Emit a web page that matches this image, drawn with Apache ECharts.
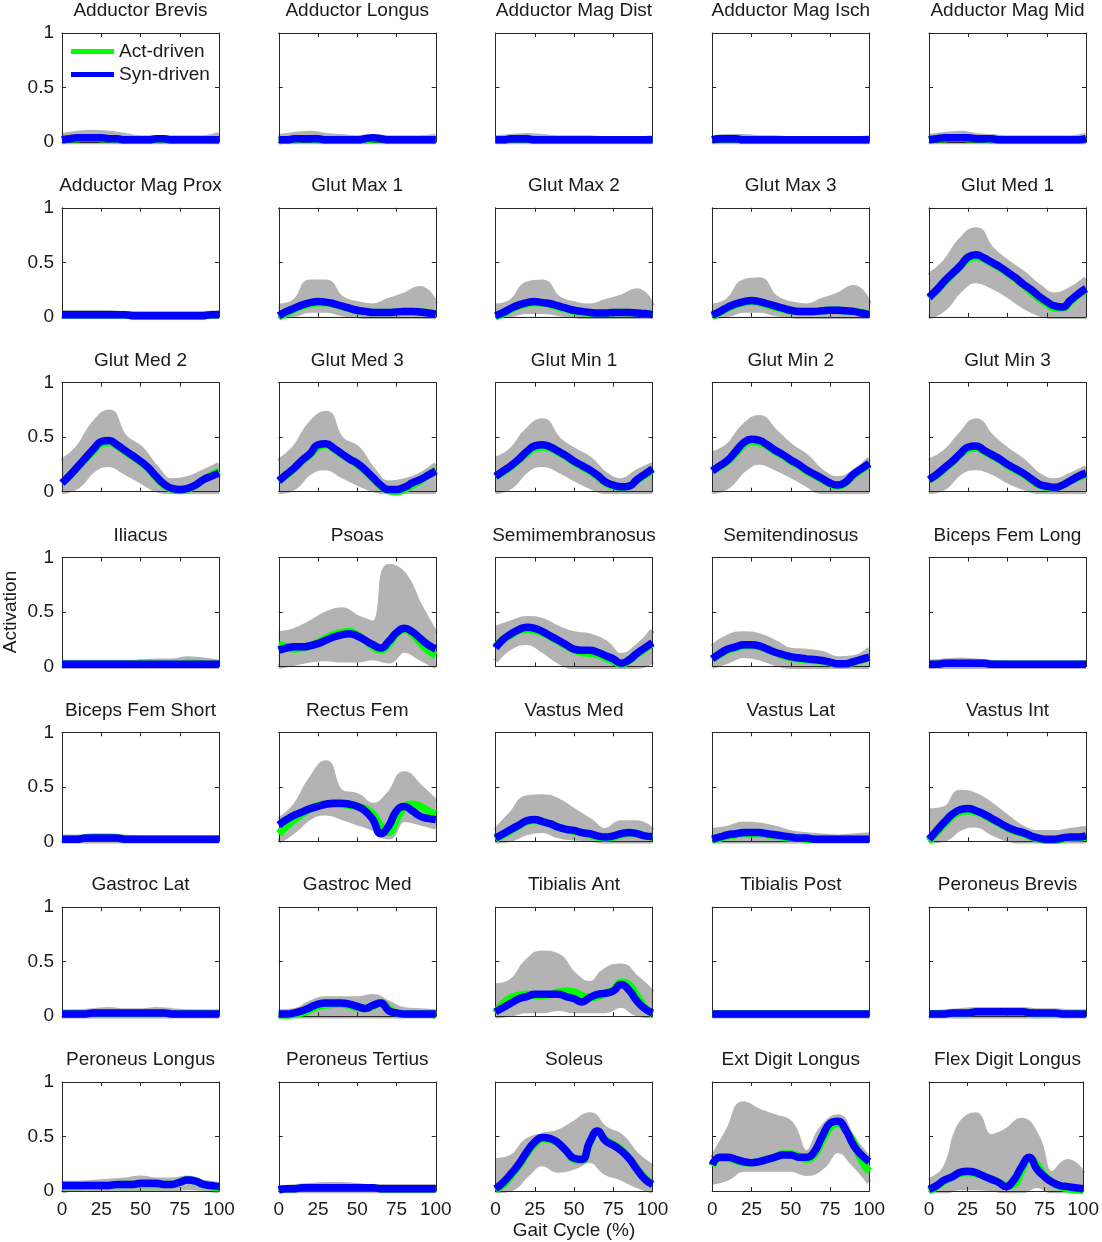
<!DOCTYPE html>
<html>
<head>
<meta charset="utf-8">
<script src="https://cdn.jsdelivr.net/npm/echarts@6/dist/echarts.min.js"></script>
<style>html,body{margin:0;padding:0;background:#fff}#c{width:1102px;height:1242px}</style>
</head>
<body>
<div id="c"></div>
<script>
// ---------------- data ----------------
const muscles = [
  'Adductor Brevis','Adductor Longus','Adductor Mag Dist','Adductor Mag Isch','Adductor Mag Mid',
  'Adductor Mag Prox','Glut Max 1','Glut Max 2','Glut Max 3','Glut Med 1',
  'Glut Med 2','Glut Med 3','Glut Min 1','Glut Min 2','Glut Min 3',
  'Iliacus','Psoas','Semimembranosus','Semitendinosus','Biceps Fem Long',
  'Biceps Fem Short','Rectus Fem','Vastus Med','Vastus Lat','Vastus Int',
  'Gastroc Lat','Gastroc Med','Tibialis Ant','Tibialis Post','Peroneus Brevis',
  'Peroneus Longus','Peroneus Tertius','Soleus','Ext Digit Longus','Flex Digit Longus'
];
const gaitX = [0,5,10,15,20,25,30,35,40,45,50,55,60,65,70,75,80,85,90,95,100];
const bandX = [0,10,20,30,40,50,60,70,80,90,100];
const xTickLabels = [0,25,50,75,100];
const yTickLabels = [0,0.5,1];
const legendNames = ['Act-driven','Syn-driven'];

// Syn-driven (blue), sampled at gaitX
const synDriven = [
  [0.02,0.03,0.04,0.04,0.04,0.04,0.03,0.03,0.02,0.02,0.02,0.02,0.03,0.03,0.02,0.02,0.02,0.02,0.02,0.02,0.02],
  [0.02,0.02,0.03,0.03,0.03,0.03,0.02,0.02,0.02,0.02,0.02,0.03,0.04,0.03,0.02,0.02,0.02,0.02,0.02,0.02,0.02],
  [0.02,0.02,0.03,0.03,0.03,0.02,0.02,0.02,0.02,0.02,0.02,0.02,0.02,0.02,0.02,0.02,0.02,0.02,0.02,0.02,0.02],
  [0.02,0.03,0.03,0.03,0.02,0.02,0.02,0.02,0.02,0.02,0.02,0.02,0.02,0.02,0.02,0.02,0.02,0.02,0.02,0.02,0.02],
  [0.02,0.03,0.04,0.04,0.04,0.04,0.03,0.03,0.03,0.02,0.02,0.02,0.02,0.02,0.02,0.02,0.02,0.02,0.02,0.02,0.03],
  [0.02,0.02,0.02,0.02,0.02,0.02,0.02,0.02,0.02,0.01,0.01,0.01,0.01,0.01,0.01,0.01,0.01,0.01,0.01,0.02,0.02],
  [0.01,0.05,0.08,0.11,0.13,0.14,0.135,0.12,0.1,0.08,0.06,0.05,0.04,0.04,0.04,0.045,0.05,0.05,0.045,0.035,0.025],
  [0.01,0.04,0.08,0.11,0.13,0.14,0.13,0.12,0.1,0.08,0.06,0.05,0.04,0.035,0.035,0.04,0.04,0.04,0.035,0.03,0.02],
  [0.015,0.05,0.09,0.12,0.14,0.15,0.14,0.12,0.1,0.08,0.06,0.05,0.05,0.05,0.055,0.06,0.06,0.055,0.05,0.035,0.02],
  [0.18,0.25,0.33,0.4,0.47,0.55,0.57,0.54,0.5,0.46,0.41,0.36,0.3,0.25,0.19,0.14,0.1,0.09,0.15,0.21,0.26],
  [0.08,0.15,0.23,0.31,0.39,0.46,0.47,0.43,0.38,0.33,0.28,0.22,0.14,0.07,0.03,0.02,0.03,0.06,0.11,0.14,0.17],
  [0.1,0.16,0.22,0.29,0.35,0.43,0.44,0.4,0.35,0.3,0.26,0.2,0.13,0.06,0.02,0.02,0.04,0.08,0.11,0.15,0.19],
  [0.14,0.19,0.24,0.3,0.37,0.42,0.43,0.41,0.37,0.33,0.28,0.24,0.2,0.15,0.09,0.06,0.045,0.05,0.11,0.16,0.21],
  [0.19,0.24,0.29,0.37,0.45,0.48,0.47,0.43,0.38,0.34,0.29,0.25,0.2,0.16,0.12,0.08,0.06,0.09,0.16,0.21,0.26],
  [0.11,0.16,0.22,0.28,0.35,0.41,0.42,0.38,0.34,0.3,0.25,0.21,0.17,0.12,0.07,0.05,0.04,0.06,0.1,0.14,0.17],
  [0.02,0.02,0.02,0.02,0.02,0.02,0.02,0.02,0.02,0.02,0.02,0.02,0.02,0.02,0.02,0.02,0.02,0.02,0.02,0.02,0.02],
  [0.15,0.17,0.18,0.18,0.19,0.21,0.24,0.27,0.29,0.3,0.28,0.24,0.2,0.17,0.23,0.31,0.35,0.32,0.26,0.2,0.16],
  [0.17,0.25,0.3,0.34,0.36,0.35,0.32,0.28,0.24,0.2,0.16,0.15,0.15,0.13,0.1,0.07,0.03,0.06,0.12,0.17,0.22],
  [0.07,0.12,0.16,0.18,0.2,0.2,0.19,0.16,0.13,0.11,0.09,0.08,0.07,0.065,0.055,0.04,0.025,0.025,0.045,0.065,0.085],
  [0.02,0.02,0.03,0.03,0.03,0.03,0.03,0.03,0.02,0.02,0.02,0.02,0.02,0.02,0.02,0.02,0.02,0.02,0.02,0.02,0.02],
  [0.02,0.02,0.02,0.03,0.03,0.03,0.03,0.03,0.02,0.02,0.02,0.02,0.02,0.02,0.02,0.02,0.02,0.02,0.02,0.02,0.02],
  [0.15,0.2,0.24,0.27,0.3,0.32,0.34,0.35,0.35,0.34,0.32,0.28,0.2,0.07,0.14,0.28,0.32,0.28,0.23,0.21,0.2],
  [0.03,0.07,0.11,0.15,0.19,0.2,0.18,0.16,0.13,0.11,0.1,0.08,0.07,0.05,0.04,0.05,0.07,0.08,0.07,0.05,0.045],
  [0.02,0.04,0.06,0.07,0.08,0.08,0.08,0.07,0.06,0.05,0.04,0.03,0.03,0.02,0.02,0.02,0.02,0.02,0.02,0.02,0.02],
  [0.02,0.1,0.18,0.25,0.29,0.3,0.28,0.25,0.21,0.17,0.13,0.1,0.08,0.05,0.03,0.02,0.02,0.03,0.04,0.04,0.05],
  [0.02,0.02,0.02,0.02,0.03,0.03,0.03,0.03,0.03,0.03,0.03,0.03,0.03,0.03,0.02,0.02,0.02,0.02,0.02,0.02,0.02],
  [0.02,0.02,0.03,0.05,0.08,0.11,0.12,0.12,0.12,0.11,0.09,0.07,0.1,0.12,0.05,0.03,0.02,0.02,0.02,0.02,0.02],
  [0.04,0.08,0.12,0.16,0.18,0.2,0.2,0.2,0.2,0.18,0.16,0.13,0.17,0.2,0.21,0.23,0.29,0.24,0.14,0.07,0.03],
  [0.02,0.02,0.02,0.02,0.02,0.02,0.02,0.02,0.02,0.02,0.02,0.02,0.02,0.02,0.02,0.02,0.02,0.02,0.02,0.02,0.02],
  [0.02,0.02,0.02,0.03,0.03,0.03,0.04,0.04,0.04,0.04,0.04,0.04,0.04,0.03,0.03,0.03,0.03,0.02,0.02,0.02,0.02],
  [0.05,0.05,0.05,0.05,0.05,0.05,0.05,0.06,0.06,0.06,0.07,0.07,0.07,0.06,0.06,0.08,0.1,0.09,0.06,0.05,0.04],
  [0.01,0.02,0.02,0.03,0.03,0.03,0.03,0.03,0.03,0.03,0.03,0.03,0.03,0.02,0.02,0.02,0.02,0.02,0.02,0.02,0.02],
  [0.02,0.08,0.16,0.25,0.36,0.45,0.49,0.48,0.44,0.37,0.3,0.29,0.45,0.55,0.46,0.42,0.37,0.3,0.2,0.11,0.06],
  [0.24,0.31,0.31,0.29,0.27,0.26,0.27,0.29,0.31,0.33,0.33,0.31,0.31,0.36,0.5,0.62,0.64,0.56,0.42,0.33,0.27],
  [0.015,0.05,0.1,0.13,0.17,0.18,0.17,0.14,0.11,0.08,0.04,0.1,0.22,0.31,0.2,0.13,0.08,0.05,0.04,0.03,0.02]
];

// Act-driven (green), sampled at gaitX
const actDriven = [
  [0.02,0.03,0.03,0.04,0.04,0.03,0.03,0.02,0.02,0.02,0.02,0.02,0.02,0.02,0.02,0.02,0.02,0.02,0.02,0.02,0.02],
  [0.01,0.02,0.02,0.03,0.03,0.02,0.02,0.02,0.02,0.02,0.02,0.02,0.03,0.03,0.02,0.02,0.02,0.02,0.02,0.02,0.02],
  [0.02,0.02,0.03,0.03,0.03,0.02,0.02,0.02,0.02,0.02,0.02,0.02,0.02,0.02,0.02,0.02,0.02,0.02,0.02,0.02,0.02],
  [0.02,0.03,0.03,0.03,0.02,0.02,0.02,0.02,0.02,0.02,0.02,0.02,0.02,0.02,0.02,0.02,0.02,0.02,0.02,0.02,0.02],
  [0.02,0.03,0.03,0.04,0.04,0.03,0.03,0.03,0.02,0.02,0.02,0.02,0.02,0.02,0.02,0.02,0.02,0.02,0.02,0.02,0.02],
  [0.02,0.02,0.02,0.02,0.02,0.02,0.02,0.02,0.02,0.01,0.01,0.01,0.01,0.01,0.01,0.01,0.01,0.01,0.01,0.02,0.02],
  [0.0,0.03,0.07,0.1,0.12,0.13,0.13,0.115,0.095,0.075,0.055,0.045,0.04,0.04,0.04,0.045,0.05,0.05,0.045,0.04,0.03],
  [0.0,0.03,0.07,0.1,0.12,0.13,0.13,0.11,0.09,0.07,0.05,0.04,0.035,0.035,0.035,0.04,0.04,0.04,0.035,0.03,0.02],
  [0.0,0.04,0.08,0.11,0.13,0.14,0.13,0.11,0.09,0.07,0.055,0.05,0.05,0.05,0.055,0.06,0.06,0.055,0.05,0.04,0.025],
  [0.17,0.24,0.32,0.39,0.46,0.53,0.55,0.53,0.49,0.45,0.4,0.35,0.29,0.23,0.17,0.12,0.08,0.08,0.14,0.2,0.25],
  [0.08,0.15,0.22,0.3,0.37,0.44,0.45,0.42,0.37,0.32,0.27,0.21,0.13,0.06,0.02,0.01,0.02,0.06,0.11,0.15,0.19],
  [0.1,0.15,0.21,0.28,0.34,0.41,0.43,0.39,0.34,0.3,0.25,0.19,0.12,0.05,0.01,0.0,0.02,0.06,0.1,0.15,0.2],
  [0.14,0.18,0.23,0.29,0.35,0.4,0.41,0.4,0.36,0.32,0.27,0.23,0.19,0.14,0.08,0.05,0.04,0.05,0.1,0.15,0.2],
  [0.19,0.23,0.28,0.35,0.43,0.46,0.45,0.42,0.37,0.33,0.28,0.24,0.19,0.15,0.11,0.07,0.05,0.08,0.15,0.2,0.25],
  [0.11,0.15,0.21,0.27,0.34,0.39,0.4,0.37,0.33,0.29,0.24,0.2,0.16,0.11,0.06,0.04,0.035,0.06,0.1,0.13,0.16],
  [0.02,0.02,0.02,0.02,0.02,0.02,0.02,0.02,0.02,0.02,0.03,0.03,0.02,0.02,0.02,0.02,0.03,0.03,0.02,0.02,0.02],
  [0.2,0.18,0.16,0.17,0.19,0.22,0.26,0.29,0.31,0.32,0.29,0.24,0.18,0.15,0.2,0.3,0.34,0.3,0.22,0.15,0.1],
  [0.18,0.25,0.29,0.33,0.34,0.33,0.31,0.27,0.23,0.19,0.15,0.13,0.12,0.11,0.08,0.05,0.02,0.05,0.11,0.16,0.21],
  [0.07,0.11,0.15,0.17,0.19,0.19,0.18,0.16,0.13,0.1,0.08,0.07,0.06,0.055,0.05,0.035,0.02,0.02,0.04,0.06,0.08],
  [0.02,0.02,0.03,0.03,0.03,0.03,0.03,0.03,0.02,0.02,0.02,0.02,0.02,0.02,0.02,0.02,0.02,0.02,0.02,0.02,0.02],
  [0.02,0.02,0.02,0.03,0.03,0.03,0.03,0.03,0.02,0.02,0.02,0.02,0.02,0.02,0.02,0.02,0.02,0.02,0.02,0.02,0.02],
  [0.07,0.14,0.2,0.25,0.3,0.33,0.34,0.34,0.34,0.33,0.32,0.3,0.25,0.14,0.08,0.2,0.31,0.34,0.32,0.28,0.25],
  [0.02,0.06,0.1,0.14,0.18,0.19,0.18,0.16,0.13,0.11,0.09,0.08,0.06,0.04,0.03,0.04,0.06,0.07,0.07,0.05,0.04],
  [0.01,0.03,0.05,0.06,0.07,0.07,0.07,0.06,0.05,0.04,0.03,0.03,0.02,0.02,0.02,0.02,0.02,0.02,0.02,0.02,0.02],
  [0.0,0.08,0.16,0.23,0.27,0.28,0.27,0.24,0.2,0.16,0.12,0.09,0.07,0.04,0.02,0.01,0.01,0.02,0.03,0.03,0.04],
  [0.02,0.02,0.02,0.02,0.03,0.03,0.03,0.03,0.03,0.03,0.03,0.03,0.03,0.03,0.02,0.02,0.02,0.02,0.02,0.02,0.02],
  [0.01,0.01,0.02,0.03,0.06,0.09,0.1,0.11,0.11,0.1,0.08,0.07,0.09,0.12,0.07,0.03,0.02,0.02,0.02,0.02,0.01],
  [0.03,0.12,0.17,0.19,0.2,0.19,0.19,0.2,0.22,0.23,0.22,0.19,0.17,0.18,0.21,0.24,0.31,0.29,0.19,0.08,0.02],
  [0.02,0.02,0.02,0.02,0.02,0.02,0.02,0.02,0.02,0.02,0.02,0.02,0.02,0.02,0.02,0.02,0.02,0.02,0.02,0.02,0.02],
  [0.02,0.02,0.02,0.03,0.03,0.03,0.04,0.04,0.04,0.04,0.04,0.04,0.04,0.03,0.03,0.03,0.03,0.02,0.02,0.02,0.02],
  [0.04,0.04,0.04,0.05,0.05,0.05,0.05,0.06,0.06,0.06,0.06,0.06,0.06,0.06,0.06,0.08,0.1,0.09,0.06,0.04,0.03],
  [0.01,0.02,0.02,0.03,0.03,0.03,0.03,0.03,0.03,0.03,0.03,0.03,0.03,0.02,0.02,0.02,0.02,0.02,0.02,0.02,0.02],
  [0.01,0.06,0.14,0.23,0.34,0.43,0.48,0.47,0.44,0.37,0.29,0.28,0.44,0.55,0.47,0.43,0.38,0.3,0.21,0.12,0.06],
  [0.23,0.3,0.3,0.28,0.26,0.26,0.27,0.29,0.31,0.34,0.34,0.32,0.29,0.33,0.46,0.58,0.62,0.56,0.45,0.28,0.18],
  [0.0,0.04,0.09,0.13,0.16,0.17,0.16,0.14,0.11,0.08,0.05,0.06,0.18,0.3,0.24,0.14,0.08,0.04,0.02,0.01,0.005]
];

// Upper edge of the grey spread of individual trials, sampled at bandX
const grayUpper = [
  [0.06,0.08,0.09,0.08,0.06,0.04,0.04,0.04,0.04,0.04,0.07],
  [0.05,0.07,0.08,0.06,0.05,0.04,0.05,0.04,0.04,0.04,0.05],
  [0.04,0.05,0.06,0.05,0.04,0.04,0.04,0.03,0.03,0.03,0.04],
  [0.04,0.05,0.05,0.04,0.04,0.03,0.03,0.03,0.03,0.03,0.04],
  [0.05,0.07,0.08,0.06,0.05,0.04,0.04,0.04,0.04,0.04,0.06],
  [0.04,0.04,0.04,0.04,0.03,0.03,0.03,0.03,0.03,0.03,0.04],
  [0.1,0.14,0.32,0.32,0.17,0.12,0.1,0.15,0.2,0.26,0.12],
  [0.1,0.14,0.3,0.32,0.17,0.12,0.1,0.14,0.18,0.24,0.1],
  [0.1,0.15,0.32,0.34,0.18,0.12,0.1,0.15,0.2,0.27,0.12],
  [0.38,0.5,0.7,0.8,0.62,0.5,0.4,0.28,0.2,0.25,0.35],
  [0.28,0.4,0.62,0.73,0.5,0.4,0.22,0.1,0.12,0.18,0.25],
  [0.28,0.4,0.62,0.72,0.48,0.4,0.2,0.08,0.1,0.15,0.25],
  [0.3,0.38,0.56,0.65,0.48,0.38,0.3,0.16,0.1,0.18,0.25],
  [0.35,0.42,0.6,0.68,0.55,0.42,0.32,0.18,0.12,0.18,0.3],
  [0.28,0.36,0.52,0.65,0.5,0.38,0.28,0.15,0.1,0.15,0.22],
  [0.04,0.04,0.04,0.04,0.04,0.04,0.05,0.05,0.07,0.06,0.04],
  [0.3,0.33,0.4,0.48,0.52,0.45,0.4,0.92,0.84,0.55,0.3],
  [0.35,0.4,0.44,0.42,0.35,0.3,0.28,0.22,0.1,0.18,0.33],
  [0.18,0.27,0.3,0.28,0.22,0.15,0.14,0.12,0.07,0.08,0.16],
  [0.04,0.05,0.06,0.05,0.04,0.03,0.03,0.03,0.03,0.03,0.03],
  [0.04,0.04,0.05,0.05,0.04,0.03,0.03,0.03,0.03,0.03,0.03],
  [0.2,0.32,0.56,0.72,0.45,0.42,0.33,0.43,0.62,0.5,0.36],
  [0.1,0.25,0.4,0.41,0.37,0.28,0.19,0.1,0.17,0.17,0.1],
  [0.1,0.12,0.16,0.15,0.12,0.08,0.06,0.05,0.04,0.05,0.06],
  [0.28,0.3,0.45,0.42,0.33,0.22,0.12,0.08,0.08,0.1,0.12],
  [0.04,0.04,0.05,0.06,0.05,0.05,0.06,0.05,0.04,0.04,0.04],
  [0.04,0.05,0.12,0.16,0.16,0.16,0.18,0.12,0.06,0.05,0.04],
  [0.28,0.32,0.5,0.58,0.55,0.38,0.3,0.42,0.46,0.35,0.22],
  [0.03,0.03,0.03,0.03,0.03,0.03,0.03,0.03,0.03,0.03,0.03],
  [0.03,0.04,0.05,0.06,0.06,0.06,0.06,0.05,0.05,0.04,0.04],
  [0.07,0.07,0.08,0.09,0.1,0.12,0.1,0.1,0.12,0.08,0.06],
  [0.03,0.04,0.05,0.06,0.06,0.05,0.04,0.04,0.04,0.04,0.04],
  [0.28,0.31,0.46,0.51,0.54,0.62,0.7,0.57,0.5,0.33,0.22],
  [0.3,0.55,0.8,0.73,0.68,0.62,0.35,0.58,0.68,0.47,0.3],
  [0.1,0.2,0.6,0.7,0.5,0.55,0.65,0.5,0.16,0.27,0.16]
];

// Lower edge of the grey spread, sampled at bandX
const grayLower = [
  [0,0,0,0,0,0,0,0,0,0,0],
  [0,0,0,0,0,0,0,0,0,0,0],
  [0,0,0,0,0,0,0,0,0,0,0],
  [0,0,0,0,0,0,0,0,0,0,0],
  [0,0,0,0,0,0,0,0,0,0,0],
  [0,0,0,0,0,0,0,0,0,0,0],
  [0,0.02,0.06,0.06,0.03,0.01,0,0,0,0,0],
  [0,0.02,0.05,0.05,0.03,0.01,0,0,0,0,0],
  [0,0.02,0.06,0.06,0.03,0.01,0,0,0,0,0],
  [0,0.08,0.25,0.33,0.28,0.2,0.1,0.03,0,0,0],
  [0,0.05,0.2,0.25,0.18,0.1,0.02,0,0,0,0],
  [0,0.04,0.18,0.22,0.15,0.08,0.02,0,0,0,0],
  [0,0.05,0.2,0.25,0.2,0.12,0.05,0,0,0,0],
  [0,0.05,0.2,0.27,0.22,0.15,0.07,0,0,0,0],
  [0,0.04,0.18,0.22,0.18,0.1,0.04,0,0,0,0],
  [0,0,0,0,0,0,0,0,0,0,0],
  [0,0.03,0.06,0.07,0.06,0.06,0.08,0.05,0.15,0.08,0],
  [0.05,0.18,0.22,0.15,0.05,0,0,0,0,0,0.05],
  [0,0.05,0.1,0.08,0.03,0,0,0,0,0,0],
  [0,0,0,0,0,0,0,0,0,0,0],
  [0,0,0,0,0,0,0,0,0,0,0],
  [0,0.1,0.22,0.26,0.22,0.17,0.12,0.04,0.2,0.17,0.13],
  [0,0.02,0.08,0.1,0.05,0.03,0.02,0,0,0,0],
  [0,0,0,0,0,0,0,0,0,0,0],
  [0,0.02,0.12,0.15,0.08,0.02,0,0,0,0,0],
  [0,0,0,0,0,0,0,0,0,0,0],
  [0,0,0,0,0,0,0,0,0,0,0],
  [0,0.02,0.05,0.05,0.07,0.05,0.05,0.05,0.1,0.02,0],
  [0,0,0,0,0,0,0,0,0,0,0],
  [0,0,0,0,0,0,0,0,0,0,0],
  [0,0.02,0.02,0.02,0.02,0.02,0.02,0.02,0.03,0.02,0],
  [0,0,0,0,0,0,0,0,0,0,0],
  [0,0.02,0.15,0.25,0.19,0.22,0.28,0.17,0.12,0.05,0],
  [0.08,0.12,0.2,0.2,0.2,0.2,0.16,0.22,0.37,0.25,0.08],
  [0,0,0.03,0.03,0.02,0,0,0.05,0,0,0]
];

// ---------------- layout & style ----------------
const FONT = '"Liberation Sans", Arial, Helvetica, sans-serif';
const TXT = '#1a1a1a';
const AX = '#262626';
const GRAY = '#b3b3b3';
const GREEN = '#00ff00';
const BLUE = '#0000ff';
const COLS = 5, ROWS = 7;
const X0 = 62, DX = 216.75, PW = 157;
const Y0 = 33, DY = 174.83, PH = 109;

const grids = [], xAxes = [], yAxes = [], series = [], titles = [];
const xStep = xTickLabels[1] - xTickLabels[0];
const yStep = yTickLabels[1] - yTickLabels[0];

muscles.forEach((name, k) => {
  const col = k % COLS, row = Math.floor(k / COLS);
  const left = X0 + col * DX, top = Y0 + row * DY;
  grids.push({ left: left, top: top, width: PW, height: PH, containLabel: false });

  const axLine = { show: true, onZero: false, lineStyle: { color: AX, width: 1 } };
  const axTick = { show: true, inside: true, length: 4, lineStyle: { color: AX, width: 1 } };
  const labStyle = { fontSize: 19, color: TXT, fontFamily: FONT };

  const xBase = { type: 'value', gridIndex: k, z: 3, min: xTickLabels[0], max: xTickLabels[xTickLabels.length - 1],
    interval: xStep, axisLine: axLine, axisTick: axTick, splitLine: { show: false } };
  xAxes.push(Object.assign({}, xBase, { position: 'bottom',
    axisLabel: Object.assign({ show: row === ROWS - 1, margin: 9 }, labStyle) }));
  xAxes.push(Object.assign({}, xBase, { position: 'top', axisLabel: { show: false } }));

  const yBase = { type: 'value', gridIndex: k, z: 3, min: yTickLabels[0], max: yTickLabels[yTickLabels.length - 1],
    interval: yStep, axisLine: axLine, axisTick: axTick, splitLine: { show: false } };
  yAxes.push(Object.assign({}, yBase, { position: 'left',
    axisLabel: Object.assign({ show: col === 0, margin: 8 }, labStyle) }));
  yAxes.push(Object.assign({}, yBase, { position: 'right', axisLabel: { show: false } }));

  titles.push({ text: name, left: left + PW / 2, top: top - 31.5, textAlign: 'center', padding: 0,
    textStyle: { fontSize: 19, fontWeight: 'normal', color: TXT, fontFamily: FONT, lineHeight: 19 } });

  const xi = 2 * k, yi = 2 * k;
  const common = { type: 'line', xAxisIndex: xi, yAxisIndex: yi, symbol: 'none', silent: true, smooth: 0.5 };
  // grey spread of individual trials: upper edge filled grey down to 0,
  // then lower edge filled white down to 0, leaving the grey band in between
  series.push(Object.assign({}, common, { name: 'trials upper',
    data: bandX.map((x, i) => [x, grayUpper[k][i]]),
    lineStyle: { color: GRAY, width: 5 }, itemStyle: { color: GRAY },
    areaStyle: { color: GRAY, opacity: 1, origin: 'start' }, z: 1 }));
  series.push(Object.assign({}, common, { name: 'trials lower',
    data: bandX.map((x, i) => [x, grayLower[k][i]]),
    lineStyle: { color: GRAY, width: 5 }, itemStyle: { color: GRAY },
    areaStyle: { color: '#ffffff', opacity: 1, origin: 'start' }, z: 2 }));
  series.push(Object.assign({}, common, { name: legendNames[0],
    data: gaitX.map((x, i) => [x, actDriven[k][i]]),
    lineStyle: { color: GREEN, width: 7.5, join: 'round' }, itemStyle: { color: GREEN }, z: 4 }));
  series.push(Object.assign({}, common, { name: legendNames[1],
    data: gaitX.map((x, i) => [x, synDriven[k][i]]),
    lineStyle: { color: BLUE, width: 7.5, join: 'round' }, itemStyle: { color: BLUE }, z: 5 }));
});

const option = {
  animation: false,
  backgroundColor: '#ffffff',
  title: titles,
  grid: grids,
  xAxis: xAxes,
  yAxis: yAxes,
  series: series,
  legend: {
    data: legendNames, orient: 'vertical', left: 71, top: 42, padding: 0,
    itemWidth: 43, itemHeight: 5, itemGap: 4, icon: 'rect', selectedMode: false,
    textStyle: { fontSize: 19, color: TXT, fontFamily: FONT, lineHeight: 19 }
  },
  graphic: [
    { type: 'text', x: 11, y: Y0 + 3 * DY + PH / 2, rotation: Math.PI / 2, silent: true,
      style: { text: 'Activation', fontSize: 19, fontFamily: FONT, fill: TXT, align: 'center', verticalAlign: 'middle' } },
    { type: 'text', x: X0 + 2 * DX + PW / 2, y: 1231, silent: true,
      style: { text: 'Gait Cycle (%)', fontSize: 19, fontFamily: FONT, fill: TXT, align: 'center', verticalAlign: 'middle' } }
  ]
};

const chart = echarts.init(document.getElementById('c'), null, { renderer: 'canvas', width: 1102, height: 1242 });
chart.setOption(option);
</script>
</body>
</html>
